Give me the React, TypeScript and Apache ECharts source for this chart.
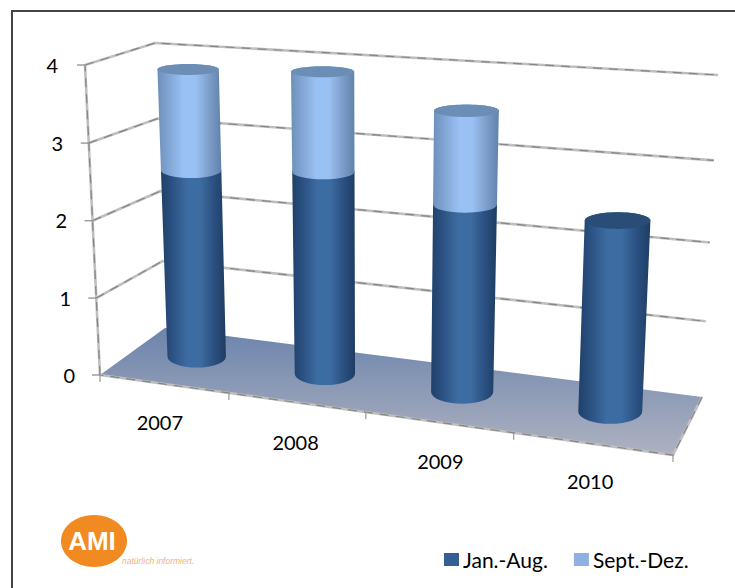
import React, { useEffect, useRef } from "react";
import * as echarts from "echarts";

const years = ["2007", "2008", "2009", "2010"];
const janAug = [2.53, 2.67, 2.42, 2.4];
const septDez: (number | null)[] = [1.31, 1.26, 1.16, null];
const yTicks = [0, 1, 2, 3, 4];
const seriesNames = ["Jan.-Aug.", "Sept.-Dez."];

const FONT = "Lato";
const knots = [0, 0.225, 0.464, 0.722, 1];
const FLB = [100, 375], FLT = [85, 65], BLB = [165, 328], BLT = [155, 43];
const BRB = [702, 397], BRT = [718, 75], FRB = [673, 455], FRT = [690, 115];
const BAR_DEPTH = 0.57;
const BAR_SHIFT = -2.5;

const lerp = (a: number, b: number, t: number) => a + (b - a) * t;
const warpX = (t: number) => {
  const s = Math.max(0, Math.min(3.9999, t * 4));
  const i = Math.floor(s);
  return lerp(knots[i], knots[i + 1], s - i);
};
// t: 0..1 along the categories, h: 0..1 along the value axis, w: 0 front .. 1 back
function project(t: number, h: number, w: number) {
  const x = warpX(t);
  const k = 0.01 + 0.07 * w;
  const v = h - k * h * (1 - h);
  const pt = (a: number[], b: number[], c: number[], d: number[], n: number) =>
    lerp(lerp(a[n], b[n], x), lerp(c[n], d[n], x), w);
  const px0 = pt(FLB, FRB, BLB, BRB, 0), py0 = pt(FLB, FRB, BLB, BRB, 1);
  const px1 = pt(FLT, FRT, BLT, BRT, 0), py1 = pt(FLT, FRT, BLT, BRT, 1);
  return [lerp(px0, px1, v), lerp(py0, py1, v)];
}

function fracs(api: any, params: any, cat: number, val: number) {
  const p = api.coord([cat, val]);
  const cs = params.coordSys;
  return [(p[0] - cs.x) / cs.width, (cs.y + cs.height - p[1]) / cs.height];
}

const grad = (stops: string[]) =>
  new echarts.graphic.LinearGradient(0, 0, 1, 0, stops.map((color, i) => ({ offset: i / (stops.length - 1), color })));

const DARK = ["#1f4069", "#2d5486", "#3d6ca2", "#3d6ca2", "#2c5283", "#1d3c63"];
const LIGHT = ["#6d90ba", "#84a9d8", "#99c1f3", "#99c1f3", "#7f9fcb", "#5f83ad"];

function cylinder(t: number, h0: number, h1: number, stops: string[], capFill: string | null) {
  const b = project(t, h0, BAR_DEPTH);
  const a = project(t, h1, BAR_DEPTH);
  b[0] += BAR_SHIFT;
  a[0] += BAR_SHIFT;
  const u = t * 4;
  const rxOf = (h: number) => 28.8 + 0.9 * u + 1.5 * h;
  const ryOf = (r: number, h: number) => r * (0.38 - 0.21 * h);
  const rb = rxOf(h0), rt = rxOf(h1);
  const yb = ryOf(rb, h0), yt = ryOf(rt, h1);
  const d =
    `M${b[0] - rb} ${b[1]} A${rb} ${yb} 0 0 0 ${b[0] + rb} ${b[1]} ` +
    `L${a[0] + rt} ${a[1]} A${rt} ${yt} 0 0 0 ${a[0] - rt} ${a[1]} Z`;
  const children: any[] = [{ type: "path", shape: { pathData: d }, style: { fill: grad(stops) } }];
  if (capFill) {
    children.push({ type: "ellipse", shape: { cx: a[0], cy: a[1], rx: rt, ry: yt }, style: { fill: capFill } });
  }
  return { type: "group", children };
}

const sketchLine = (pts: number[][]) => [
  { type: "polyline", shape: { points: pts }, style: { fill: "none", stroke: "#bfbfbf", lineWidth: 2.6 } },
  { type: "polyline", shape: { points: pts }, style: { fill: "none", stroke: "#858585", lineWidth: 1.2, lineDash: [9, 7] } },
];

function renderWall(params: any, api: any) {
  const val = api.value(0);
  const [, h] = fracs(api, params, 0, val);
  const front = project(0, h, 0), back = project(0, h, 1), right = project(1, h, 1);
  const kids: any[] = [];
  if (val === 0) {
    const frontRight = project(1, 0, 0);
    kids.push({
      type: "polygon",
      shape: { points: [front, back, right, frontRight] },
      style: {
        fill: new echarts.graphic.LinearGradient(0, 0, 0, 1, [
          { offset: 0, color: "#6c84ac" },
          { offset: 1, color: "#aeb2c0" },
        ]),
      },
    });
    kids.push(...sketchLine([right, frontRight, front]));
    kids.push(...sketchLine([front, project(0, 1, 0)]));
    for (let i = 0; i <= years.length; i++) {
      const q = project(i / years.length, 0, 0);
      kids.push({ type: "line", shape: { x1: q[0], y1: q[1], x2: q[0], y2: q[1] + 7 }, style: { stroke: "#999", lineWidth: 1.2 } });
    }
  } else {
    kids.push(...sketchLine([front, back, right]));
  }
  kids.push({ type: "line", shape: { x1: front[0] - 8, y1: front[1], x2: front[0], y2: front[1] }, style: { stroke: "#888", lineWidth: 1.2 } });
  return { type: "group", children: kids };
}

function renderDark(params: any, api: any) {
  const i = api.value(0);
  const v = api.value(1);
  const [t, h] = fracs(api, params, i, v);
  return cylinder(t, 0, h, DARK, septDez[i] == null ? "#2a4d78" : null);
}

function renderLight(params: any, api: any) {
  const i = api.value(0);
  const [t, h0] = fracs(api, params, i, janAug[i]);
  const [, h1] = fracs(api, params, i, janAug[i] + api.value(1));
  return cylinder(t, h0, h1, LIGHT, "#6b8db6");
}

const yPad: Record<string, number> = { y0: 0, y1: 4, y2: 8, y3: 12, y4: 17 };
const xPad = [[29, 24], [49, 40], [68, 38], [88, 26]];

export default function App() {
  const ref = useRef<HTMLDivElement>(null);
  useEffect(() => {
    const chart = echarts.init(ref.current!, undefined, { renderer: "svg" });
    const rich: any = {};
    Object.keys(yPad).forEach((k) => {
      rich[k] = { fontFamily: FONT, fontSize: 20, color: "#000", padding: [0, yPad[k], 0, 0] };
    });
    const xRich: any = {};
    years.forEach((y, i) => {
      xRich["x" + i] = { fontFamily: FONT, fontSize: 20, color: "#000", padding: [xPad[i][0], xPad[i][1], 0, 0] };
    });
    chart.setOption({
      animation: false,
      backgroundColor: "#fff",
      grid: { left: 100, right: 735 - 675, top: 65, bottom: 588 - 375, containLabel: false },
      xAxis: {
        type: "category",
        data: years,
        axisLine: { show: false },
        axisTick: { show: false },
        splitLine: { show: false },
        axisLabel: {
          interval: 0,
          margin: 8,
          hideOverlap: false,
          formatter: (v: string) => `{x${years.indexOf(v)}|${v}}`,
          rich: xRich,
        },
      },
      yAxis: {
        type: "value",
        min: 0,
        max: 4,
        interval: 1,
        axisLine: { show: false },
        axisTick: { show: false },
        splitLine: { show: false },
        axisLabel: { margin: 25, formatter: (v: number) => `{y${v}|${v}}`, rich },
      },
      legend: {
        left: 444,
        top: 549,
        itemWidth: 15,
        itemHeight: 13,
        itemGap: 26,
        icon: "rect",
        padding: 0,
        data: seriesNames,
        textStyle: { fontFamily: FONT, fontSize: 21, color: "#000", padding: [0, 0, 0, -1] },
      },
      series: [
        { type: "custom", name: "wall", renderItem: renderWall, silent: true, data: yTicks.map((v) => [v]), encode: { y: 0 } },
        {
          type: "custom",
          name: seriesNames[0],
          renderItem: renderDark,
          itemStyle: { color: "#335f94" },
          data: janAug.map((v, i) => [i, v]),
          encode: { x: 0, y: 1 },
        },
        {
          type: "custom",
          name: seriesNames[1],
          renderItem: renderLight,
          itemStyle: { color: "#8db1e2" },
          data: septDez.map((v, i) => (v == null ? null : [i, v])).filter(Boolean),
          encode: { x: 0, y: 1 },
        },
      ],
      graphic: [
        { type: "line", shape: { x1: 12, y1: 11, x2: 735, y2: 11 }, style: { stroke: "#444", lineWidth: 2 } },
        { type: "line", shape: { x1: 12, y1: 10, x2: 12, y2: 588 }, style: { stroke: "#444", lineWidth: 2 } },
        { type: "ellipse", shape: { cx: 94, cy: 541, rx: 33, ry: 26 }, style: { fill: "#f18a21" } },
        { type: "text", x: 92, y: 541, style: { text: "AMI", fill: "#fff", font: "bold 26px 'Liberation Sans'", align: "center", verticalAlign: "middle" } },
        { type: "text", x: 122, y: 561, style: { text: "natürlich informiert.", fill: "#f2b478", font: "italic 8.5px 'Liberation Sans'", align: "left", verticalAlign: "middle" } },
      ],
    });
    return () => chart.dispose();
  }, []);
  return <div ref={ref} style={{ position: "absolute", left: 0, top: 0, width: 735, height: 588 }} />;
}
